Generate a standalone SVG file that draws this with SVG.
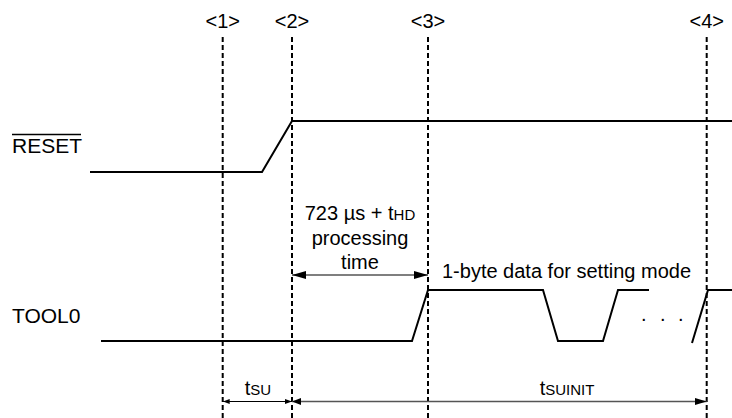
<svg xmlns="http://www.w3.org/2000/svg" width="732" height="418" viewBox="0 0 732 418">
<style>
  text { font-family: "Liberation Sans", Arial, sans-serif; fill: #000; }
  .t20 { font-size: 20px; }
  .lab { font-size: 21px; }
  .sub { font-size: 15px; }
  .mid { text-anchor: middle; }
  .dash { stroke: #000; stroke-width: 2; stroke-dasharray: 5 3; fill: none; }
  .sig { stroke: #000; stroke-width: 2; fill: none; stroke-linejoin: miter; }
  .dim { stroke: #000; stroke-width: 1.2; fill: none; }
  .dim2 { stroke: #555; stroke-width: 1.6; fill: none; }
</style>
<defs>
  <marker id="bigHead" markerUnits="userSpaceOnUse" markerWidth="14" markerHeight="8" refX="14" refY="4" orient="auto-start-reverse">
    <path d="M0,0 L14,4 L0,8 z" fill="#000"/>
  </marker>
  <marker id="smallHead" markerUnits="userSpaceOnUse" markerWidth="7" markerHeight="6" refX="7" refY="3" orient="auto-start-reverse">
    <path d="M0,0.5 L7,3 L0,5.5 z" fill="#000"/>
  </marker>
  <marker id="midHead" markerUnits="userSpaceOnUse" markerWidth="12" markerHeight="7" refX="12" refY="3.5" orient="auto">
    <path d="M0,0 L12,3.5 L0,7 z" fill="#000"/>
  </marker>
  <marker id="midHeadStart" markerUnits="userSpaceOnUse" markerWidth="9" markerHeight="7" refX="9" refY="3.5" orient="auto-start-reverse">
    <path d="M0,0 L9,3.5 L0,7 z" fill="#000"/>
  </marker>
</defs>

<g id="timing-markers">
  <g id="m1"><text class="t20 mid" x="222.7" y="28">&lt;1&gt;</text><line class="dash" x1="222.7" y1="37" x2="222.7" y2="418"/></g>
  <g id="m2"><text class="t20 mid" x="292" y="28">&lt;2&gt;</text><line class="dash" x1="292" y1="37" x2="292" y2="418"/></g>
  <g id="m3"><text class="t20 mid" x="428" y="28">&lt;3&gt;</text><line class="dash" x1="428" y1="37" x2="428" y2="418"/></g>
  <g id="m4"><text class="t20 mid" x="706.7" y="28">&lt;4&gt;</text><line class="dash" x1="706.7" y1="37" x2="706.7" y2="418"/></g>
</g>

<g id="reset">
  <text class="lab" x="12" y="153">RESET</text>
  <line x1="12" y1="134.5" x2="81" y2="134.5" stroke="#000" stroke-width="1.5"/>
  <path class="sig" d="M90,172 H262 L292,121 H732"/>
</g>

<g id="tool0">
  <text class="lab" x="12" y="323">TOOL0</text>
  <path class="sig" d="M101,341 H412 L428,290 H543 L558,341 H603 L618,290 H649"/>
  <path class="sig" d="M692,343 L708,290 H732"/>
  <text class="t20" x="641 660 678" y="321">...</text>
  <text class="t20 mid" x="566.5" y="278">1-byte data for setting mode</text>
</g>

<g id="connectors">
  <line class="dim" x1="292" y1="275" x2="428" y2="275" marker-start="url(#bigHead)" marker-end="url(#bigHead)"/>
  <line class="dim" x1="222.7" y1="401.5" x2="292" y2="401.5" marker-start="url(#smallHead)" marker-end="url(#smallHead)"/>
  <line class="dim2" x1="292" y1="401.5" x2="706.7" y2="401.5" marker-start="url(#midHeadStart)" marker-end="url(#midHead)"/>
</g>

<g id="dim-labels">
  <text class="t20 mid" x="360" y="220">723 µs + t<tspan class="sub">HD</tspan></text>
  <text class="t20 mid" x="360" y="244.5">processing</text>
  <text class="t20 mid" x="360" y="269">time</text>
  <text class="t20 mid" x="258" y="395">t<tspan class="sub">SU</tspan></text>
  <text class="t20 mid" x="567" y="395">t<tspan class="sub">SUINIT</tspan></text>
</g>
</svg>
